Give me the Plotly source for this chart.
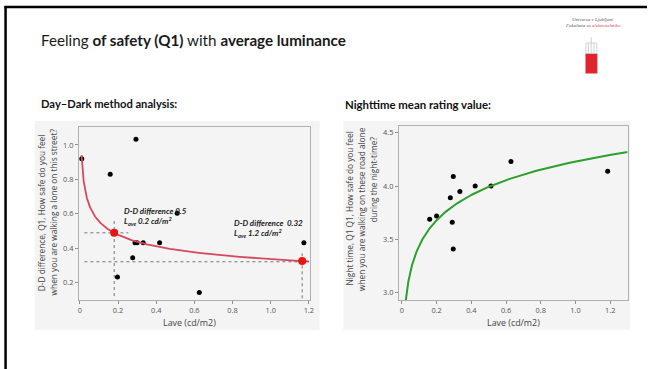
import numpy as np
import plotly.graph_objects as go

W, H = 651, 369

# ---------------- data ----------------
# Left chart: Day-Dark difference vs average luminance
dd_x = [0.01, 0.159, 0.294, 0.289, 0.300, 0.332, 0.418, 0.510, 0.277, 0.197, 0.626, 1.174]
dd_y = [0.92, 0.83, 1.033, 0.432, 0.432, 0.432, 0.432, 0.603, 0.345, 0.233, 0.144, 0.432]
dd_hl_x = [0.18, 1.165]          # highlighted points on the fit
dd_hl_y = [0.49, 0.326]
# power-law fit  y = a * x^b  (coefficients)
dd_fit_a, dd_fit_b = 0.337, -0.218
dd_fit_range = [0.009, 1.2]

# Right chart: nighttime mean rating vs average luminance
nt_x = [0.160, 0.200, 0.279, 0.296, 0.334, 0.290, 0.296, 0.422, 0.513, 0.628, 1.185]
nt_y = [3.69, 3.72, 3.89, 4.09, 3.95, 3.66, 3.41, 4.00, 4.00, 4.23, 4.14]
# logarithmic fit  y = a + b*ln(x)
nt_fit_a, nt_fit_b = 4.23, 0.342
nt_fit_range = [0.021, 1.30]

x_ticks = [0, 0.2, 0.4, 0.6, 0.8, 1.0, 1.2]
x_tick_text = ["0", "0.2", "0.4", "0.6", "0.8", "1.0", "1.2"]
dd_y_ticks = [0.2, 0.4, 0.6, 0.8, 1.0]
dd_y_tick_text = ["0.2", "0.4", "0.6", "0.8", "1.0"]
nt_y_ticks = [3.0, 3.5, 4.0, 4.5]
nt_y_tick_text = ["3.0", "3.5", "4.0", "4.5"]

# ---------------- helpers ----------------
def px(x):
    return x / W

def py(y):
    return 1 - y / H

fig = go.Figure()

# fitted curves
xl = np.geomspace(dd_fit_range[0], dd_fit_range[1], 300)
yl = dd_fit_a * xl ** dd_fit_b
xr = np.geomspace(nt_fit_range[0], nt_fit_range[1], 300)
yr = nt_fit_a + nt_fit_b * np.log(xr)

fig.add_trace(go.Scatter(x=dd_x, y=dd_y, mode="markers", xaxis="x", yaxis="y",
                         marker=dict(color="black", size=5), showlegend=False))
fig.add_trace(go.Scatter(x=xl, y=yl, mode="lines", xaxis="x", yaxis="y",
                         line=dict(color="#d4495c", width=1.8), showlegend=False))
fig.add_trace(go.Scatter(x=dd_hl_x, y=dd_hl_y, mode="markers", xaxis="x", yaxis="y",
                         marker=dict(color="#ff0a0a", size=8), showlegend=False))

fig.add_trace(go.Scatter(x=nt_x, y=nt_y, mode="markers", xaxis="x2", yaxis="y2",
                         marker=dict(color="black", size=5), showlegend=False))
fig.add_trace(go.Scatter(x=xr, y=yr, mode="lines", xaxis="x2", yaxis="y2",
                         line=dict(color="#2ca02c", width=2), showlegend=False))

tick_font = dict(family="Open Sans, sans-serif", size=7.4, color="#555555")

axis_common = dict(showline=True, linecolor="#b0b0b0", linewidth=1, mirror=True,
                   ticks="outside", ticklen=3, tickcolor="#909090",
                   showgrid=False, zeroline=False, tickfont=tick_font)

fig.update_layout(
    width=W, height=H,
    margin=dict(l=0, r=0, t=0, b=0),
    paper_bgcolor="white", plot_bgcolor="white",
    xaxis=dict(domain=[px(78.5), px(311)], range=[-0.005, 1.204],
               tickvals=x_ticks, ticktext=x_tick_text, anchor="y", **axis_common),
    yaxis=dict(domain=[py(300), py(126.7)], range=[0.1, 1.106],
               tickvals=dd_y_ticks, ticktext=dd_y_tick_text, anchor="x", **axis_common),
    xaxis2=dict(domain=[px(401), px(631.5)], range=[-0.017, 1.30],
                tickvals=x_ticks, ticktext=x_tick_text, anchor="y2", **axis_common),
    yaxis2=dict(domain=[py(300), py(126)], range=[2.932, 4.563],
                tickvals=nt_y_ticks, ticktext=nt_y_tick_text, anchor="x2", **axis_common),
)

shapes = []
# chart background panels
for x0, x1 in [(34, 321), (345, 634)]:
    shapes.append(dict(type="rect", xref="paper", yref="paper", layer="below",
                       x0=px(x0), x1=px(x1), y0=py(330), y1=py(121),
                       fillcolor="#f4f4f4", line=dict(width=0)))
# slide border (top and left)
shapes.append(dict(type="line", xref="paper", yref="paper", x0=px(4.6), x1=px(4.6),
                   y0=py(6), y1=0, line=dict(color="black", width=2.5)))
shapes.append(dict(type="line", xref="paper", yref="paper", x0=px(3.5), x1=1,
                   y0=py(7), y1=py(7), line=dict(color="black", width=2.5)))
# logo
shapes.append(dict(type="rect", xref="paper", yref="paper", x0=px(589), x1=px(601),
                   y0=py(73.5), y1=py(53.5), fillcolor="#e0242f", line=dict(width=0)))
shapes.append(dict(type="rect", xref="paper", yref="paper", x0=px(589.5), x1=px(600.5),
                   y0=py(53.5), y1=py(43), fillcolor="rgba(0,0,0,0)",
                   line=dict(color="#c8c8c8", width=0.8)))
for lx in [592, 594.8, 597.6]:
    shapes.append(dict(type="line", xref="paper", yref="paper", x0=px(lx), x1=px(lx),
                       y0=py(53.5), y1=py(43), line=dict(color="#c8c8c8", width=0.8)))
shapes.append(dict(type="line", xref="paper", yref="paper", x0=px(594.8), x1=px(594.8),
                   y0=py(43), y1=py(37.5), line=dict(color="#bdbdbd", width=0.8)))

# dotted guide lines at highlighted points (data coordinates)
dot = dict(color="#555555", width=0.8, dash="dot")
hx0, hx1 = dd_hl_x
hy0, hy1 = dd_hl_y
shapes += [
    dict(type="line", xref="x", yref="y", x0=hx0, x1=hx0, y0=0.123, y1=0.574, line=dot),
    dict(type="line", xref="x", yref="y", x0=0.024, x1=0.254, y0=hy0, y1=hy0, line=dot),
    dict(type="line", xref="x", yref="y", x0=0.024, x1=1.2, y0=0.322, y1=0.322, line=dot),
    dict(type="line", xref="x", yref="y", x0=hx1, x1=hx1, y0=0.11, y1=0.374, line=dot),
]
fig.update_layout(shapes=shapes)

ann = []
def text(x, y, t, size, color="#222222", family="Lato, sans-serif", xanchor="left",
         yanchor="middle", textangle=0, align="left"):
    ann.append(dict(x=px(x), y=py(y), xref="paper", yref="paper", text=t,
                    showarrow=False, xanchor=xanchor, yanchor=yanchor,
                    textangle=textangle, align=align,
                    font=dict(family=family, size=size, color=color)))

text(38, 40.5, "Feeling <b>of safety (Q1)</b> with <b>average luminance</b>", 15.2, "#1a1a1a")
text(38, 103.5, "<b>Day–Dark method analysis:</b>", 11.2, "#111111")
text(345, 104.5, "<b>Nighttime mean rating value:</b>", 11.4, "#111111")

# logo text
text(597, 20, "<i>Univerza v Ljubljani</i>", 5, "#555555", "Liberation Serif, serif", "center")
text(597, 25.7, "<i>Fakulteta <span style='color:#e04050'>za elektrotehniko</span></i>", 5,
     "#555555", "Liberation Serif, serif", "center")

# axis titles
sans = "Open Sans, sans-serif"
text(190, 322, "Lave (cd/m2)", 8.9, "#444444", sans, "center")
text(516.5, 322, "Lave (cd/m2)", 8.9, "#444444", sans, "center")
text(41, 212.5, "D-D difference, Q1, How safe do you feel", 8.3, "#444444", sans, "center",
     textangle=-90)
text(53.3, 211.5, "when you are walking a lone on this street?", 8.3, "#444444", sans, "center",
     textangle=-90)
text(351.7, 208.5, "Night time, Q1 Q1, How safe do you feel", 8.3, "#444444", sans, "center",
     textangle=-90)
text(363.3, 209.5, "when you are walking on these road alone", 8.3, "#444444", sans, "center",
     textangle=-90)
text(374.5, 180, "during the night-time?", 8.3, "#444444", sans, "center", textangle=-90)

# chart annotations
text(121.5, 216.5, "<b><i>D-D difference 0.5<br>L<sub>ave</sub> 0.2 cd/m<sup>2</sup></i></b>",
     8.0, "#222222", "Lato, sans-serif")
text(232.5, 228.8, "<b><i>D-D difference  0.32<br>L<sub>ave</sub> 1.2 cd/m<sup>2</sup></i></b>",
     8.0, "#222222", "Lato, sans-serif")

fig.update_layout(annotations=ann)
fig.write_html("out.html", config={"displayModeBar": False},
               post_script="document.body.style.margin='0';document.body.style.overflow='hidden';")
